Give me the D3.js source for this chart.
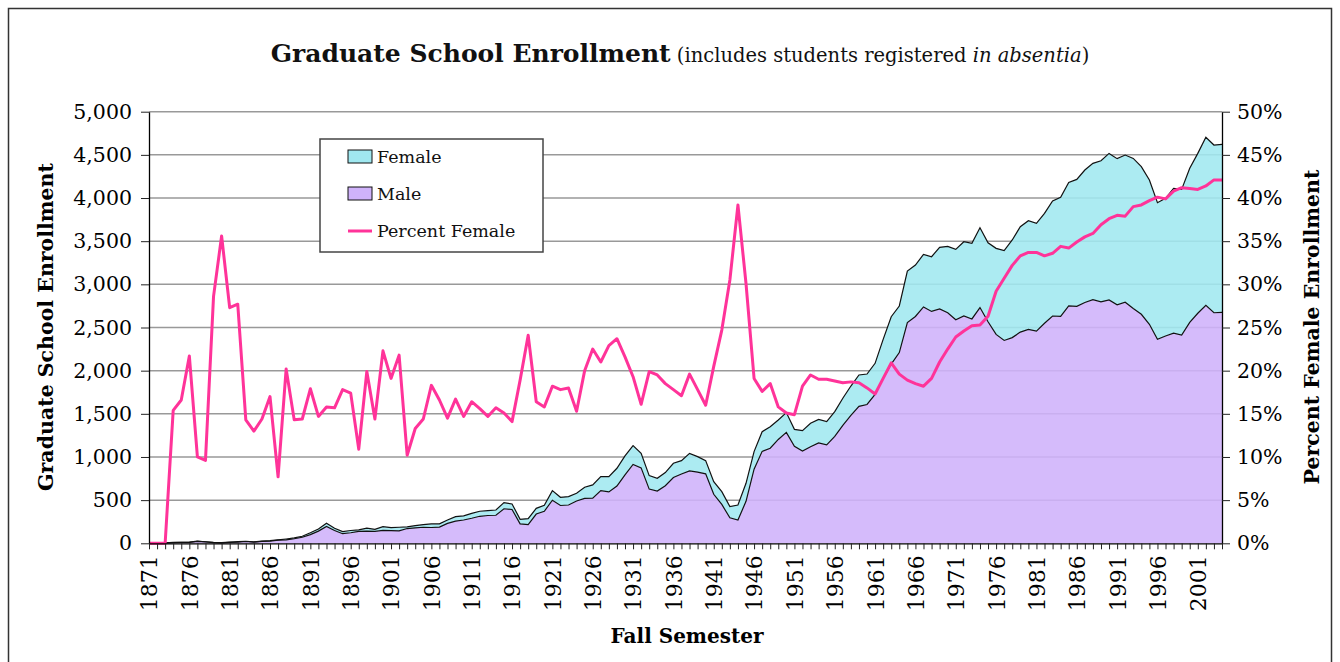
<!DOCTYPE html>
<html>
<head>
<meta charset="utf-8">
<script src="https://cdn.jsdelivr.net/npm/d3@7"></script>
<style>
body { margin: 0; background: #fff; }
svg { display: block; font-family: "DejaVu Serif", serif; }
</style>
</head>
<body>
<svg id="chart" width="1340" height="662"></svg>
<script>
// fall semesters 1871 - 2004, one point per year
var firstYear = 1871;
var lastYear = 2004;
var years = d3.range(firstYear, lastYear + 1);

var male = [
  4, 5, 6, 8, 10, 11, 22, 16, 7, 5,
  10, 14, 21, 14, 22, 25, 37, 40, 53, 70,
  100, 141, 195, 148, 111, 122, 138, 140, 139, 150,
  147, 145, 171, 178, 186, 183, 188, 231, 257, 270,
  290, 313, 322, 325, 400, 392, 225, 217, 339, 371,
  499, 438, 444, 490, 520, 524, 610, 595, 663, 793,
  913, 874, 628, 606, 667, 762, 803, 838, 825, 805,
  568, 450, 295, 270, 486, 859, 1065, 1101, 1203, 1285,
  1123, 1068, 1119, 1163, 1141, 1238, 1367, 1481, 1587, 1608,
  1724, 1912, 2076, 2210, 2558, 2628, 2738, 2686, 2716, 2670,
  2590, 2634, 2599, 2731, 2566, 2420, 2350, 2383, 2447, 2478,
  2458, 2549, 2633, 2629, 2751, 2745, 2789, 2822, 2797, 2819,
  2763, 2793, 2720, 2653, 2537, 2364, 2402, 2434, 2411, 2559,
  2665, 2756, 2671, 2676
];

var female = [
  0, 0, 0, 2, 2, 3, 3, 2, 3, 3,
  4, 6, 3, 2, 4, 5, 3, 10, 9, 12,
  22, 24, 37, 27, 24, 26, 17, 35, 23, 43,
  35, 41, 19, 27, 30, 41, 37, 39, 52, 47,
  57, 58, 56, 61, 71, 64, 53, 69, 66, 69,
  111, 95, 97, 89, 129, 152, 162, 177, 206, 219,
  218, 168, 156, 147, 152, 165, 155, 204, 179, 153,
  146, 148, 130, 174, 209, 203, 228, 250, 226, 229,
  197, 237, 271, 273, 268, 287, 313, 341, 363, 353,
  361, 451, 549, 539, 596, 596, 609, 634, 713, 770,
  815, 860, 876, 925, 916, 997, 1040, 1131, 1221, 1259,
  1249, 1273, 1332, 1379, 1430, 1471, 1535, 1580, 1635, 1698,
  1693, 1705, 1739, 1710, 1671, 1582, 1594, 1678, 1689, 1785,
  1852, 1947, 1943, 1946
];

// percent of graduate students who were women
var pctFemale = [
  0, 0, 0, 15.4, 16.6, 21.7, 10.0, 9.6, 28.6, 35.6,
  27.3, 27.7, 14.3, 13.0, 14.4, 17.0, 7.7, 20.2, 14.3, 14.4,
  17.9, 14.7, 15.8, 15.7, 17.8, 17.4, 10.9, 19.9, 14.4, 22.3,
  19.1, 21.8, 10.2, 13.3, 14.4, 18.3, 16.6, 14.5, 16.7, 14.7,
  16.4, 15.6, 14.7, 15.7, 15.1, 14.1, 18.9, 24.1, 16.4, 15.8,
  18.2, 17.8, 18.0, 15.3, 20.0, 22.5, 21.0, 22.9, 23.7, 21.6,
  19.3, 16.1, 19.9, 19.5, 18.5, 17.8, 17.1, 19.6, 17.8, 16.0,
  20.5, 24.7, 30.5, 39.2, 30.1, 19.1, 17.6, 18.5, 15.8, 15.1,
  14.9, 18.2, 19.5, 19.0, 19.0, 18.8, 18.6, 18.7, 18.6, 18.0,
  17.3, 19.1, 20.9, 19.6, 18.9, 18.5, 18.2, 19.1, 21.0, 22.5,
  23.9, 24.6, 25.2, 25.3, 26.3, 29.2, 30.7, 32.2, 33.3, 33.7,
  33.7, 33.3, 33.6, 34.4, 34.2, 34.9, 35.5, 35.9, 36.9, 37.6,
  38.0, 37.9, 39.0, 39.2, 39.7, 40.1, 39.9, 40.8, 41.2, 41.1,
  41.0, 41.4, 42.1, 42.1
];

var enrollTicks = d3.range(0, 5001, 500);
var pctTicks = d3.range(0, 51, 5);
var legendNames = ["Female", "Male", "Percent Female"];

var colors = {
  male: "#cfb2fa",
  female: "#a0e8f0",
  pct: "#ff3399"
};

var rows = years.map((yr, i) => ({
  year: yr,
  male: male[i],
  female: female[i],
  pct: pctFemale[i]
}));

// plot box (window.top is taken, so prefixed names)
var plotLeft = 149, plotRight = 1222, plotTop = 111.7, plotBottom = 543.3;

var svg = d3.select("#chart");

// outer frame
svg.append("rect")
  .attr("x", 8.5)
  .attr("y", 8.5)
  .attr("width", 1323)
  .attr("height", 700)
  .attr("fill", "none")
  .attr("stroke", "#333")
  .attr("stroke-width", 1.5);

const x = d3.scaleLinear().domain([firstYear, lastYear]).range([plotLeft, plotRight]);
const y = d3.scaleLinear().domain([0, 5000]).range([plotBottom, plotTop]);
const yPct = d3.scaleLinear().domain([0, 50]).range([plotBottom, plotTop]);

// gridlines
svg.append("g")
  .selectAll("line")
  .data(enrollTicks.filter(d => d > 0))
  .enter()
  .append("line")
  .attr("x1", plotLeft)
  .attr("x2", plotRight)
  .attr("y1", d => y(d))
  .attr("y2", d => y(d))
  .attr("stroke", "#999")
  .attr("stroke-width", 1.5);

// stacked areas
const stack = d3.stack().keys(["male", "female"]);
const layers = stack(rows);

const area = d3.area()
  .x(d => x(d.data.year))
  .y0(d => y(d[0]))
  .y1(d => y(d[1]));

const topLine = d3.line()
  .x(d => x(d.data.year))
  .y(d => y(d[1]));

svg.append("g")
  .selectAll("path")
  .data(layers)
  .enter()
  .append("path")
  .attr("d", area)
  .attr("fill", d => colors[d.key])
  .attr("fill-opacity", 0.88);

svg.append("g")
  .selectAll("path")
  .data(layers)
  .enter()
  .append("path")
  .attr("d", topLine)
  .attr("fill", "none")
  .attr("stroke", "#111")
  .attr("stroke-width", 1.2);

// percent female line
const pctLine = d3.line()
  .x(d => x(d.year))
  .y(d => yPct(d.pct));

svg.append("path")
  .datum(rows)
  .attr("d", pctLine)
  .attr("fill", "none")
  .attr("stroke", colors.pct)
  .attr("stroke-width", 3)
  .attr("stroke-linejoin", "round");

// axes
const leftAxis = svg.append("g")
  .attr("transform", `translate(${plotLeft},0)`)
  .call(d3.axisLeft(y).tickValues(enrollTicks).tickSize(8).tickSizeOuter(0).tickPadding(9).tickFormat(d3.format(",")));

const rightAxis = svg.append("g")
  .attr("transform", `translate(${plotRight},0)`)
  .call(d3.axisRight(yPct).tickValues(pctTicks).tickSize(8).tickSizeOuter(0).tickPadding(7).tickFormat(d => d + "%"));

const bottomAxis = svg.append("g")
  .attr("transform", `translate(0,${plotBottom})`)
  .call(d3.axisBottom(x).tickValues(years).tickSize(6).tickSizeOuter(0)
    .tickFormat(d => (d - firstYear) % 5 == 0 ? d : ""));

[leftAxis, rightAxis, bottomAxis].forEach(g => {
  g.selectAll(".domain").attr("stroke", "#000").attr("stroke-width", 1.3);
  g.selectAll(".tick line").attr("stroke", "#222").attr("stroke-width", 1);
  g.selectAll("text")
    .attr("fill", "#000")
    .style("font-family", "DejaVu Serif, serif")
    .style("font-size", "20.5px");
});

bottomAxis.selectAll("text")
  .attr("transform", "rotate(-90)")
  .attr("text-anchor", "end")
  .attr("x", -12)
  .attr("y", 0)
  .attr("dy", "0.36em")
  .style("font-size", "22px");

// titles
const title = svg.append("text")
  .attr("x", 680)
  .attr("y", 62)
  .attr("text-anchor", "middle")
  .attr("fill", "#111");
title.append("tspan").style("font-size", "25px").style("font-weight", "bold").text("Graduate School Enrollment");
title.append("tspan").style("font-size", "19.5px").text(" (includes students registered ");
title.append("tspan").style("font-size", "19.5px").style("font-style", "italic").text("in absentia");
title.append("tspan").style("font-size", "19.5px").text(")");

svg.append("text")
  .attr("transform", "translate(46,327) rotate(-90)")
  .attr("text-anchor", "middle")
  .attr("dy", "0.35em")
  .style("font-size", "20.5px")
  .style("font-weight", "bold")
  .text("Graduate School Enrollment");

svg.append("text")
  .attr("transform", "translate(1312,327) rotate(-90)")
  .attr("text-anchor", "middle")
  .attr("dy", "0.35em")
  .style("font-size", "20.5px")
  .style("font-weight", "bold")
  .text("Percent Female Enrollment");

svg.append("text")
  .attr("x", 687)
  .attr("y", 643)
  .attr("text-anchor", "middle")
  .style("font-size", "20px")
  .style("font-weight", "bold")
  .text("Fall Semester");

// legend
const legend = svg.append("g").attr("transform", "translate(320,139)");
legend.append("rect")
  .attr("width", 223)
  .attr("height", 113)
  .attr("fill", "#fff")
  .attr("stroke", "#444")
  .attr("stroke-width", 1.5);

const item = legend.selectAll("g.item")
  .data(legendNames)
  .enter()
  .append("g")
  .attr("class", "item")
  .attr("transform", (d, i) => `translate(28,${18 + i * 37})`);

item.filter((d, i) => i < 2)
  .append("rect")
  .attr("x", 0)
  .attr("y", -7)
  .attr("width", 24)
  .attr("height", 13)
  .attr("fill", (d, i) => i == 0 ? colors.female : colors.male)
  .attr("stroke", "#111")
  .attr("stroke-width", 1);

item.filter((d, i) => i == 2)
  .append("line")
  .attr("x1", 0)
  .attr("x2", 24)
  .attr("y1", 0)
  .attr("y2", 0)
  .attr("stroke", colors.pct)
  .attr("stroke-width", 3);

item.append("text")
  .attr("x", 29)
  .attr("dy", "0.35em")
  .style("font-size", "17.5px")
  .attr("fill", "#111")
  .text(d => d);
</script>
</body>
</html>
